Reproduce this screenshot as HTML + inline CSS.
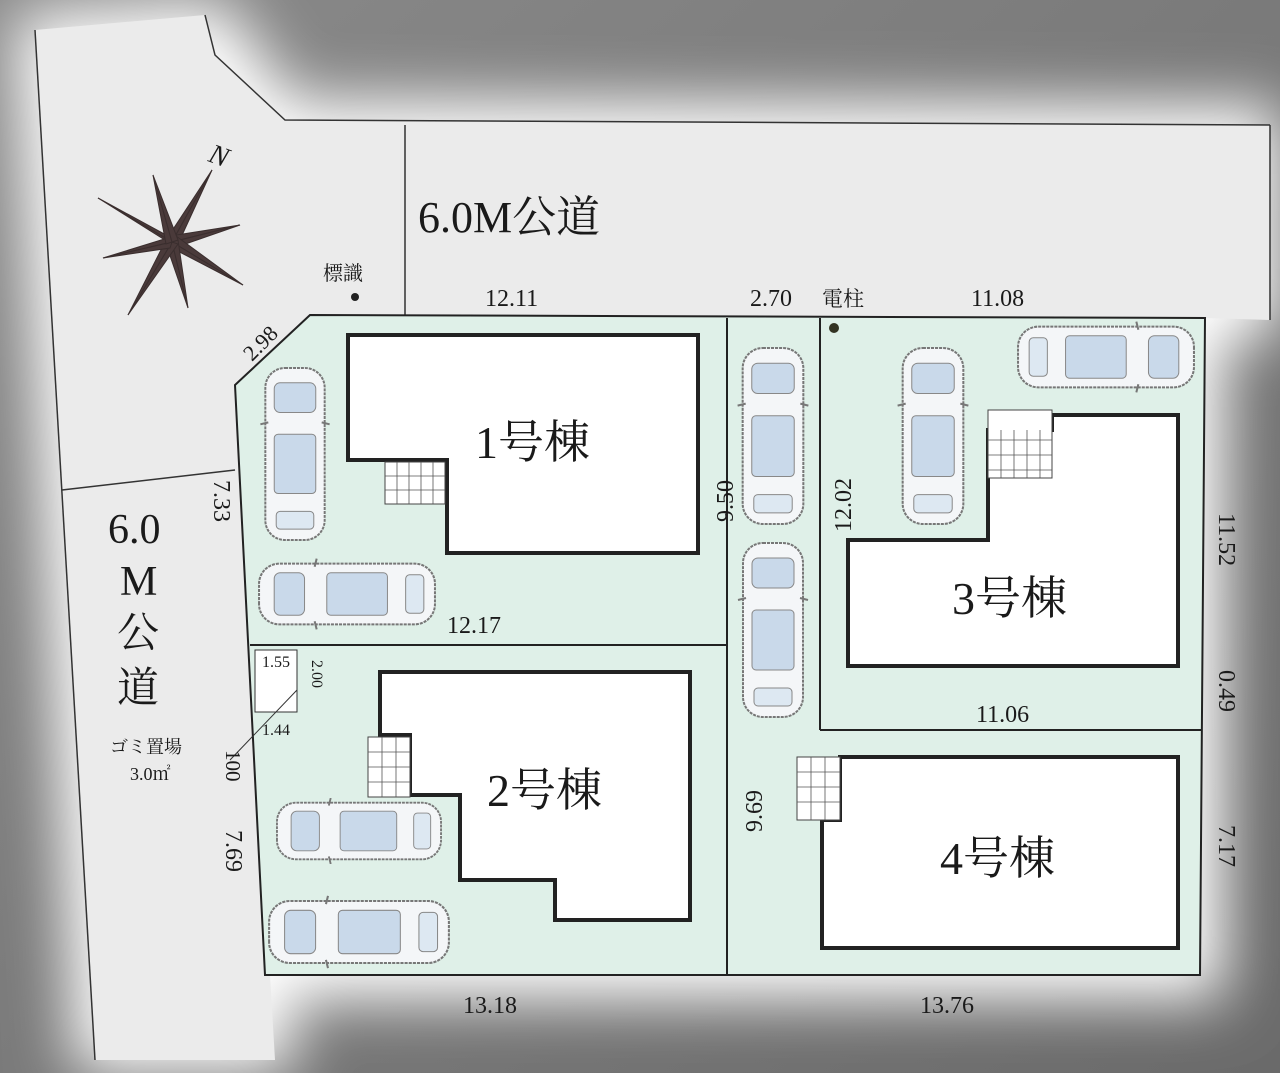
<!DOCTYPE html>
<html><head><meta charset="utf-8"><style>
html,body{margin:0;padding:0;background:#7a7a7a}
svg{display:block}
text{font-family:"Liberation Serif","Noto Serif CJK SC",serif;fill:#1a1a1a}
</style></head><body>
<svg width="1280" height="1073" viewBox="0 0 1280 1073" xmlns="http://www.w3.org/2000/svg">
<defs>
<filter id="b" x="-20%" y="-20%" width="140%" height="140%"><feGaussianBlur stdDeviation="30"/></filter>
<linearGradient id="bg" x1="0" y1="0" x2="1" y2="1"><stop offset="0" stop-color="#8a8a8a"/><stop offset="0.5" stop-color="#7a7a7a"/><stop offset="1" stop-color="#6a6a6a"/></linearGradient>
<symbol id="car" viewBox="0 0 70 180">
<rect x="5" y="3" width="60" height="174" rx="20" fill="#f4f6f8" stroke="#777" stroke-width="2" stroke-dasharray="3 1"/>
<rect x="14" y="18" width="42" height="30" rx="6" fill="#c9d9ea" stroke="#888"/>
<rect x="14" y="70" width="42" height="60" rx="4" fill="#c9d9ea" stroke="#888"/>
<rect x="16" y="148" width="38" height="18" rx="4" fill="#dde8f2" stroke="#888"/>
<line x1="0" y1="60" x2="8" y2="58" stroke="#777" stroke-width="2"/><line x1="70" y1="60" x2="62" y2="58" stroke="#777" stroke-width="2"/>
</symbol>
</defs>
<rect width="1280" height="1073" fill="url(#bg)"/>
<!-- glow -->
<polygon filter="url(#b)" fill="#ffffff" points="15,15 220,0 295,100 1280,105 1280,335 1225,340 1225,1000 290,1000 295,1073 75,1073"/>
<!-- roads -->
<polygon fill="#ebebeb" points="35,30 205,15 215,55 285,120 1270,125 1270,320 1205,318 1200,975 270,975 275,1060 95,1060"/>
<g stroke="#333" stroke-width="1.5" fill="none">
<polyline points="35,30 95,1060"/>
<polyline points="205,15 215,55 285,120 1270,125"/>
<line x1="405" y1="125" x2="405" y2="315"/>
<line x1="62" y1="490" x2="235" y2="470"/>
<line x1="1270" y1="125" x2="1270" y2="320"/>
</g>
<!-- lots -->
<polygon fill="#dff0e8" stroke="#222" stroke-width="2" points="310,315 1205,318 1200,975 265,975 235,385"/>
<g stroke="#222" stroke-width="2">
<line x1="727" y1="318" x2="727" y2="975"/>
<line x1="250" y1="645" x2="727" y2="645"/>
<line x1="820" y1="318" x2="820" y2="730"/>
<line x1="820" y1="730" x2="1202" y2="730"/>
</g>
<rect x="255" y="650" width="42" height="62" fill="#fff" stroke="#333" stroke-width="1"/>
<line x1="230" y1="760" x2="297" y2="690" stroke="#333" stroke-width="1"/>
<!-- buildings -->
<g fill="#fff" stroke="#222" stroke-width="4">
<polygon points="348,335 698,335 698,553 447,553 447,460 348,460"/>
<polygon points="380,672 690,672 690,920 555,920 555,880 460,880 460,795 410,795 410,735 380,735"/>
<polygon points="1052,415 1178,415 1178,666 848,666 848,540 988,540 988,430 1052,430"/>
<polygon points="840,757 1178,757 1178,948 822,948 822,820 840,820"/>
</g>
<g fill="#fff" stroke="#444" stroke-width="1">
<rect x="385" y="462" width="60" height="42"/>
<rect x="368" y="737" width="42" height="60"/>
<rect x="988" y="410" width="64" height="68"/>
<rect x="797" y="757" width="43" height="63"/>
</g>
<g stroke="#555" stroke-width="0.8">
<path d="M385 476H445M385 490H445M397 462V504M409 462V504M421 462V504M433 462V504"/>
<path d="M368 752H410M368 767H410M368 782H410M382 737V797M396 737V797"/>
<path d="M988 440H1052M988 455H1052M988 470H1052M1001 430V478M1014 430V478M1027 430V478M1040 430V478"/>
<path d="M797 772H840M797 787H840M797 802H840M811 757V820M825 757V820"/>
</g>
<!-- cars -->
<use href="#car" x="258" y="365" width="74" height="178"/>
<use href="#car" transform="translate(256,634) rotate(-90)" width="80" height="182"/>
<use href="#car" x="736" y="345" width="74" height="182"/>
<use href="#car" x="736" y="540" width="74" height="180"/>
<use href="#car" x="893" y="345" width="80" height="182"/>
<use href="#car" transform="translate(1197,318) rotate(90)" width="78" height="182"/>
<use href="#car" transform="translate(266,864) rotate(-90)" width="66" height="186"/>
<use href="#car" transform="translate(266,974) rotate(-90)" width="84" height="186"/>
<!-- compass -->
<g fill="#4a3a3a" stroke="#3a2e2e" stroke-width="1">
<polygon points="172,242 98,198 168,236"/><polygon points="172,242 98,198 176,247"/>
<polygon points="172,242 212,170 166,240"/><polygon points="172,242 212,170 178,244"/>
<polygon points="172,242 240,225 170,236"/><polygon points="172,242 240,225 174,248"/>
<polygon points="172,242 243,285 176,236"/><polygon points="172,242 243,285 168,246"/>
<polygon points="172,242 188,308 166,244"/><polygon points="172,242 188,308 178,240"/>
<polygon points="172,242 128,315 178,244"/><polygon points="172,242 128,315 166,240"/>
<polygon points="172,242 103,258 174,236"/><polygon points="172,242 103,258 170,248"/>
<polygon points="172,242 153,175 166,244"/><polygon points="172,242 153,175 178,240"/>
</g>
<text x="210" y="165" font-size="28" font-style="italic" transform="rotate(20 220 155)">N</text>
<!-- labels -->
<text x="418" y="232" font-size="44">6.0M公道</text>
<text x="323" y="280" font-size="20">標識</text>
<circle cx="355" cy="297" r="4" fill="#222"/>
<circle cx="834" cy="328" r="5" fill="#332"/>
<text x="475" y="458" font-size="46">1号棟</text>
<text x="487" y="806" font-size="46">2号棟</text>
<text x="952" y="614" font-size="46">3号棟</text>
<text x="940" y="874" font-size="46">4号棟</text>
<text x="108" y="543" font-size="42">6.0</text>
<text x="120" y="595" font-size="42">M</text>
<text x="117" y="647" font-size="42">公</text>
<text x="117" y="702" font-size="42">道</text>
<text x="110" y="753" font-size="18">ゴミ置場</text>
<text x="130" y="780" font-size="18">3.0㎡</text>
<g font-size="24">
<text x="485" y="306">12.11</text>
<text x="750" y="306">2.70</text>
<text x="822" y="306" font-size="21">電柱</text>
<text x="971" y="306">11.08</text>
<text x="447" y="633">12.17</text>
<text x="976" y="722">11.06</text>
<text x="463" y="1013">13.18</text>
<text x="920" y="1013">13.76</text>
<text x="262" y="667" font-size="16">1.55</text>
<text x="262" y="735" font-size="16">1.44</text>
<text transform="translate(252,362) rotate(-45)" font-size="22">2.98</text>
<text transform="translate(214,480) rotate(90)">7.33</text>
<text transform="translate(733,522) rotate(-90)">9.50</text>
<text transform="translate(851,532) rotate(-90)">12.02</text>
<text transform="translate(1219,513) rotate(90)">11.52</text>
<text transform="translate(1219,670) rotate(90)">0.49</text>
<text transform="translate(1219,825) rotate(90)">7.17</text>
<text transform="translate(762,832) rotate(-90)">9.69</text>
<text transform="translate(226,830) rotate(90)">7.69</text>
<text transform="translate(226,750) rotate(90)" font-size="21">100</text>
<text transform="translate(312,660) rotate(90)" font-size="16">2.00</text>
</g>
</svg>
</body></html>
